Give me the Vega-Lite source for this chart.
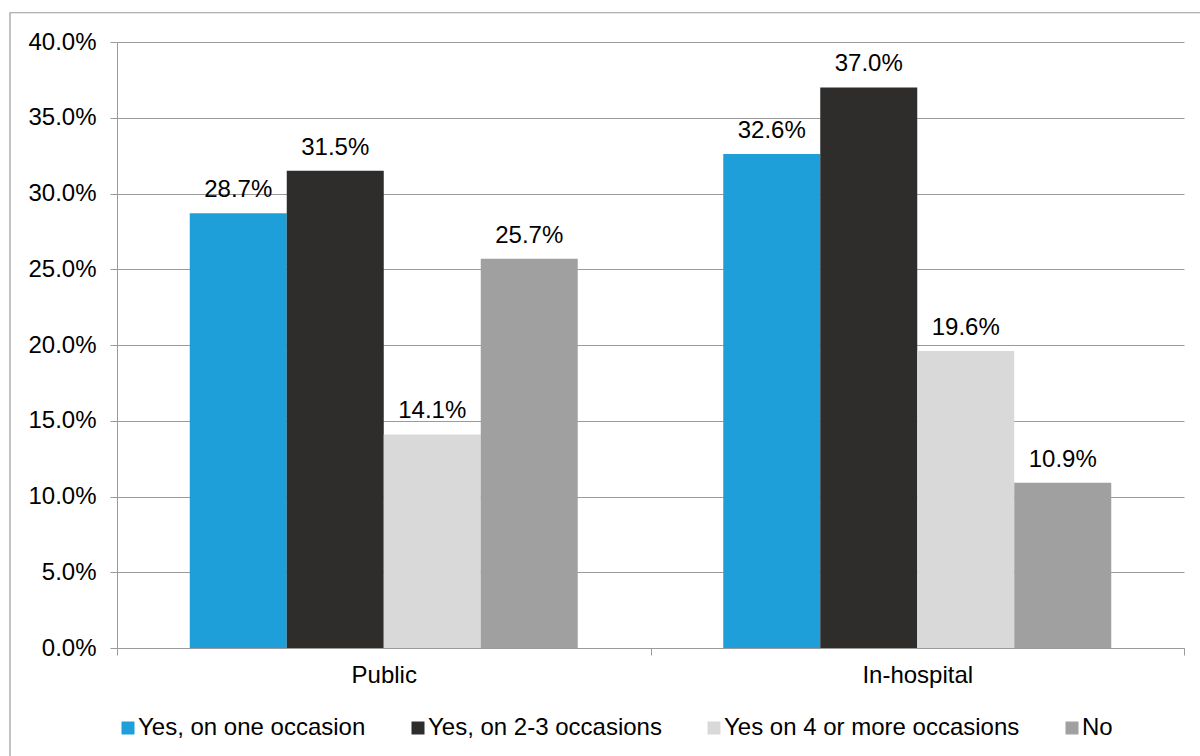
{
  "$schema": "https://vega.github.io/schema/vega-lite/v6.json",
  "autosize": "none",
  "width": 1067,
  "height": 606,
  "padding": {"left": 117, "top": 42, "right": 16, "bottom": 108},
  "background": "white",
  "config": {
    "font": "Liberation Sans",
    "view": {"stroke": null},
    "axis": {
      "labelFont": "Liberation Sans",
      "labelFontSize": 24,
      "labelColor": "#000000",
      "domainColor": "#9a9a9a",
      "tickColor": "#9a9a9a",
      "gridColor": "#9a9a9a",
      "tickSize": 7,
      "title": null
    }
  },
  "layer": [
    {
      "description": "Chart frame",
      "data": {"values": [{}]},
      "mark": {"type": "rect", "filled": false, "stroke": "#9a9a9a", "strokeWidth": 1.2},
      "encoding": {
        "x": {"datum": -0.1003, "type": "quantitative", "scale": {"domain": [0, 1], "nice": false, "zero": false}, "axis": null},
        "x2": {"datum": 1.05},
        "y": {"datum": 1.0483, "type": "quantitative", "scale": {"domain": [0, 1], "nice": false, "zero": false}, "axis": null},
        "y2": {"datum": -0.25}
      }
    },
    {
      "data": {
        "values": [
          {"setting": "Public", "answer": "Yes, on one occasion", "share": 0.287},
          {"setting": "Public", "answer": "Yes, on 2-3 occasions", "share": 0.315},
          {"setting": "Public", "answer": "Yes on 4 or more occasions", "share": 0.141},
          {"setting": "Public", "answer": "No", "share": 0.257},
          {"setting": "In-hospital", "answer": "Yes, on one occasion", "share": 0.326},
          {"setting": "In-hospital", "answer": "Yes, on 2-3 occasions", "share": 0.370},
          {"setting": "In-hospital", "answer": "Yes on 4 or more occasions", "share": 0.196},
          {"setting": "In-hospital", "answer": "No", "share": 0.109}
        ]
      },
      "encoding": {
        "x": {
          "field": "setting",
          "type": "nominal",
          "sort": ["Public", "In-hospital"],
          "scale": {"paddingInner": 0, "paddingOuter": 0},
          "axis": {"labelAngle": 0, "tickBand": "extent", "labelPadding": 8, "grid": false}
        },
        "xOffset": {
          "field": "answer",
          "type": "nominal",
          "sort": ["Yes, on one occasion", "Yes, on 2-3 occasions", "Yes on 4 or more occasions", "No"],
          "scale": {"paddingInner": 0, "paddingOuter": 0.75}
        },
        "y": {
          "field": "share",
          "type": "quantitative",
          "scale": {"domain": [0, 0.4], "nice": false},
          "axis": {
            "format": ".1%",
            "values": [0, 0.05, 0.1, 0.15, 0.2, 0.25, 0.3, 0.35, 0.4],
            "grid": true,
            "labelPadding": 14
          }
        }
      },
      "layer": [
        {
          "mark": {"type": "bar"},
          "encoding": {
            "color": {
              "field": "answer",
              "type": "nominal",
              "sort": ["Yes, on one occasion", "Yes, on 2-3 occasions", "Yes on 4 or more occasions", "No"],
              "scale": {
                "domain": ["Yes, on one occasion", "Yes, on 2-3 occasions", "Yes on 4 or more occasions", "No"],
                "range": ["#1f9fd9", "#2e2d2c", "#d9d9d9", "#a0a0a0"]
              },
              "legend": {
                "orient": "none",
                "legendX": -1,
                "legendY": 674,
                "direction": "horizontal",
                "columns": 4,
                "columnPadding": 40,
                "title": null,
                "symbolType": "square",
                "symbolSize": 169,
                "symbolStrokeWidth": 0,
                "symbolOpacity": 1,
                "labelFontSize": 24,
                "labelFont": "Liberation Sans",
                "labelColor": "#000000",
                "labelOffset": -2,
                "labelLimit": 400
              }
            }
          }
        },
        {
          "mark": {"type": "text", "baseline": "alphabetic", "dy": -16, "fontSize": 24, "color": "#000000"},
          "encoding": {
            "text": {"field": "share", "type": "quantitative", "format": ".1%"}
          }
        }
      ]
    }
  ],
  "resolve": {
    "scale": {"x": "independent", "y": "independent"},
    "axis": {"x": "independent", "y": "independent"}
  }
}
